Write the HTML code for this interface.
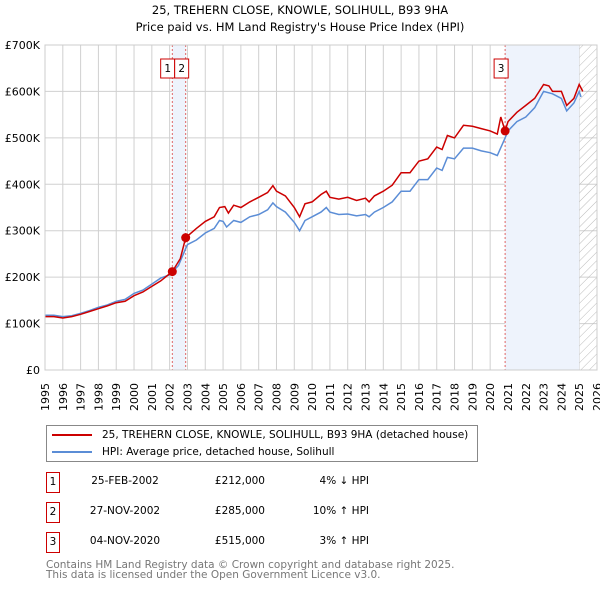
<!DOCTYPE html>
<html><head><meta charset="utf-8"><style>
body{margin:0;background:#fff;font-family:"Liberation Sans","DejaVu Sans",sans-serif;}
#wrap{position:relative;width:600px;height:590px;overflow:hidden}
svg text{font-family:"DejaVu Sans","Liberation Sans",sans-serif}
</style></head><body><div id="wrap">
<svg id="chart" width="600" height="590">
<defs><pattern id="hatch" width="6" height="6" patternUnits="userSpaceOnUse" patternTransform="rotate(45)"><line x1="0" y1="0" x2="0" y2="6" stroke="#bbb" stroke-width="1"/></pattern></defs>
<text x="300" y="14" text-anchor="middle" font-size="11.5">25, TREHERN CLOSE, KNOWLE, SOLIHULL, B93 9HA</text>
<text x="300" y="31" text-anchor="middle" font-size="11.5">Price paid vs. HM Land Registry's House Price Index (HPI)</text>
<g id="grid"></g><g id="bands"></g><g id="series"></g><g id="axes"></g>
</svg>
<div style="position:absolute;left:46px;top:425px;width:430px;height:35px;border:1px solid #888;font-size:10.5px;font-family:'DejaVu Sans','Liberation Sans',sans-serif">
 <div style="position:absolute;left:5px;top:3px;white-space:nowrap"><span style="display:inline-block;width:40px;height:2px;background:#cc0000;vertical-align:middle;margin-right:10px"></span>25, TREHERN CLOSE, KNOWLE, SOLIHULL, B93 9HA (detached house)</div>
 <div style="position:absolute;left:5px;top:20px;white-space:nowrap"><span style="display:inline-block;width:40px;height:2px;background:#5b8dd6;vertical-align:middle;margin-right:10px"></span>HPI: Average price, detached house, Solihull</div>
</div>
<div id="table" style="font-family:'DejaVu Sans','Liberation Sans',sans-serif;font-size:10.5px"></div>
<div style="position:absolute;left:46px;top:560px;font-size:10.5px;color:#777;line-height:10px;font-family:'DejaVu Sans','Liberation Sans',sans-serif">Contains HM Land Registry data © Crown copyright and database right 2025.<br>This data is licensed under the Open Government Licence v3.0.</div>
</div>
<script>
const yearTicks=[1995,1996,1997,1998,1999,2000,2001,2002,2003,2004,2005,2006,2007,2008,2009,2010,2011,2012,2013,2014,2015,2016,2017,2018,2019,2020,2021,2022,2023,2024,2025,2026];
const priceTicks=[0,100,200,300,400,500,600,700];
const priceTickLabels=["£0","£100K","£200K","£300K","£400K","£500K","£600K","£700K"];
const hpiT=[1995,1995.5,1996,1996.5,1997,1997.5,1998,1998.5,1999,1999.5,2000,2000.5,2001,2001.5,2002,2002.5,2002.9,2003,2003.5,2004,2004.5,2004.8,2005,2005.2,2005.6,2006,2006.5,2007,2007.5,2007.8,2008,2008.5,2009,2009.3,2009.6,2010,2010.5,2010.8,2011,2011.5,2012,2012.5,2013,2013.2,2013.5,2014,2014.5,2015,2015.5,2016,2016.5,2017,2017.3,2017.6,2018,2018.5,2019,2019.5,2020,2020.4,2020.84,2021,2021.5,2022,2022.5,2023,2023.5,2024,2024.3,2024.7,2025,2025.1];
const hpiV=[118,118,115,117,122,128,135,140,148,152,165,172,185,198,205,225,262,270,280,295,305,322,320,308,322,318,330,335,345,360,352,340,318,300,322,330,340,350,340,335,336,332,335,330,340,350,362,385,385,410,410,435,430,458,455,478,478,472,468,462,500,515,535,545,565,600,595,585,558,575,600,588];
const propT=[1995,1995.5,1996,1996.5,1997,1997.5,1998,1998.5,1999,1999.5,2000,2000.5,2001,2001.5,2002.15,2002.6,2002.9,2003.5,2004,2004.5,2004.8,2005.1,2005.3,2005.6,2006,2006.5,2007,2007.5,2007.8,2008,2008.5,2009,2009.3,2009.6,2010,2010.5,2010.8,2011,2011.5,2012,2012.5,2013,2013.2,2013.5,2014,2014.5,2015,2015.5,2016,2016.5,2017,2017.3,2017.6,2018,2018.5,2019,2019.5,2020,2020.4,2020.6,2020.84,2021,2021.5,2022,2022.5,2023,2023.3,2023.5,2024,2024.3,2024.7,2025,2025.2];
const propV=[115,115,112,115,120,126,132,138,145,148,160,168,180,192,212,240,285,305,320,330,350,352,338,355,350,362,372,382,397,385,375,350,330,358,362,378,385,372,368,372,365,370,362,375,385,398,425,425,450,455,480,475,505,500,527,525,520,515,508,545,515,535,555,570,585,615,612,600,600,570,585,615,600];
const saleIds=["1","2","3"];
const saleT=[2002.15,2002.9,2020.84];
const saleV=[212,285,515];
const saleDates=["25-FEB-2002","27-NOV-2002","04-NOV-2020"];
const salePrices=["£212,000","£285,000","£515,000"];
const saleHpi=["4% ↓ HPI","10% ↑ HPI","3% ↑ HPI"];

const X0=45,X1=597,Y0=370,Y1=45,T0=1995,T1=2026,V1=700;
const sx=t=>X0+(t-T0)/(T1-T0)*(X1-X0);
const sy=v=>Y0-v/V1*(Y0-Y1);
const NS="http://www.w3.org/2000/svg";
function mk(tag,attrs,parent){const e=document.createElementNS(NS,tag);for(const k in attrs)e.setAttribute(k,attrs[k]);parent.appendChild(e);return e;}
const grid=document.getElementById('grid'),bands=document.getElementById('bands'),series=document.getElementById('series'),axes=document.getElementById('axes');
let b=mk('rect',{x:sx(saleT[0]),y:Y1,width:sx(saleT[1])-sx(saleT[0]),height:Y0-Y1,fill:'#eef3fc'},bands);

b=mk('rect',{x:sx(saleT[2]),y:Y1,width:sx(2025)-sx(saleT[2]),height:Y0-Y1,fill:'#eef3fc'},bands);

b=mk('rect',{x:sx(2025),y:Y1,width:X1-sx(2025),height:Y0-Y1,fill:'url(#hatch)'},bands);

yearTicks.forEach(y=>{const l=mk('line',{x1:sx(y),x2:sx(y),y1:Y1,y2:Y0,stroke:'#d0d0d0'},grid);

const t=mk('text',{x:0,y:0,'font-size':11,'text-anchor':'end',transform:`translate(${sx(y)+4},383) rotate(-90)`},axes);t.textContent=y;
});
priceTicks.forEach((v,i)=>{const l=mk('line',{x1:X0,x2:X1,y1:sy(v),y2:sy(v),stroke:'#d0d0d0'},grid);

const t=mk('text',{x:40,y:sy(v)+4,'font-size':11,'text-anchor':'end'},axes);t.textContent=priceTickLabels[i];
});
saleT.forEach((t,i)=>{const l=mk('line',{x1:sx(t),x2:sx(t),y1:Y1,y2:Y0,stroke:'#e06666','stroke-dasharray':'2,2'},bands);
});
const path=(T,V)=>T.map((t,i)=>(i?'L':'M')+sx(t).toFixed(1)+','+sy(V[i]).toFixed(1)).join('');
let p=mk('path',{d:path(hpiT,hpiV),fill:'none',stroke:'#5b8dd6','stroke-width':1.5},series);

p=mk('path',{d:path(propT,propV),fill:'none',stroke:'#cc0000','stroke-width':1.5},series);

const box2=sx(saleT[1])-11;
const boxX=[box2-14,box2,sx(saleT[2])-11];
saleT.forEach((t,i)=>{const c=mk('circle',{cx:sx(t),cy:sy(saleV[i]),r:4.5,fill:'#cc0000'},series);

const bx=boxX[i];
const r=mk('rect',{x:bx,y:59,width:14,height:19,fill:'#fff',stroke:'#cc0000'},series);

const tx=mk('text',{x:bx+7,y:72,'font-size':10.5,'text-anchor':'middle'},series);tx.textContent=saleIds[i];
});
const fr=mk('rect',{x:X0,y:Y1,width:X1-X0,height:Y0-Y1,fill:'none',stroke:'#ccc'},axes);

const tb=document.getElementById('table');
saleIds.forEach((id,i)=>{const top=472+i*30;
const row=document.createElement('div');row.style.cssText=`position:absolute;left:0;top:${top}px;width:600px;height:22px`;


row.innerHTML=`<div style="position:absolute;left:46px;top:0;width:12px;height:19px;border:1px solid #cc0000;text-align:center;line-height:19px">${id}</div>
<div style="position:absolute;left:75px;width:100px;text-align:center;top:3px">${saleDates[i]}</div>
<div style="position:absolute;left:185px;width:80px;text-align:right;top:3px">${salePrices[i]}</div>
<div style="position:absolute;left:289px;width:80px;text-align:right;top:3px">${saleHpi[i]}</div>`;
tb.appendChild(row);});
</script></body></html>
